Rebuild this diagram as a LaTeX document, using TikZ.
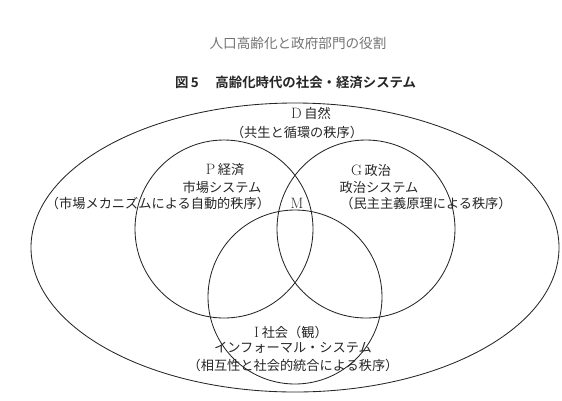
\documentclass[tikz,border=0pt]{standalone}
\usepackage{fontspec}
\newfontfamily\jp[BoldFont={Noto Sans CJK JP Bold}]{Noto Sans CJK JP}
\newcommand{\latinletter}[1]{{\rmfamily\fontsize{15}{15}\selectfont #1}\hspace{0.2em}}
\begin{document}
\begin{tikzpicture}[x=1pt,y=-1pt,
  lbl/.style={font=\jp\fontsize{13.2}{15}\selectfont, inner sep=0pt, text=black!85},
  ring/.style={draw=black!85, line width=0.85pt}]
\useasboundingbox (0,0) rectangle (562,400);
% titles
\node[lbl, text=black!55, font=\jp\fontsize{13.6}{15}\selectfont] (t1) at (298,43) {人口高齢化と政府部門の役割};
\node[lbl, anchor=west, font=\jp\bfseries\fontsize{13.4}{15}\selectfont] (t2) at (175,82) {図\,5\hspace{1.25em}高齢化時代の社会・経済システム};
% shapes
\coordinate (cD) at (295,247.5);
\coordinate (cP) at (224,229);
\coordinate (cG) at (366,229);
\coordinate (cI) at (295,297);
\draw[ring] (cD) ellipse [x radius=264pt, y radius=144.5pt];
\draw[ring] (cP) circle [radius=89pt];
\draw[ring] (cG) circle [radius=89pt];
\draw[ring] (cI) circle [radius=87pt];
% labels
\node[lbl] (d1) at (311,113) {\latinletter{D}自然};
\node[lbl] (d2) at (297,132) {（共生と循環の秩序）};
\node[lbl] (p1) at (225,170) {\latinletter{P}経済};
\node[lbl] (p2) at (222,187) {市場システム};
\node[lbl] (p3) at (158,203) {（市場メカニズムによる自動的秩序）};
\node[lbl, font=\rmfamily\fontsize{15}{15}\selectfont] (m) at (297,203) {M};
\node[lbl] (g1) at (371,170) {\latinletter{G}政治};
\node[lbl] (g2) at (379,187) {政治システム};
\node[lbl] (g3) at (426,203) {（民主主義原理による秩序）};
\node[lbl] (i1) at (291,332) {\latinletter{I}社会（観）};
\node[lbl] (i2) at (293,348) {インフォーマル・システム};
\node[lbl] (i3) at (293,365) {（相互性と社会的統合による秩序）};
\end{tikzpicture}
\end{document}
